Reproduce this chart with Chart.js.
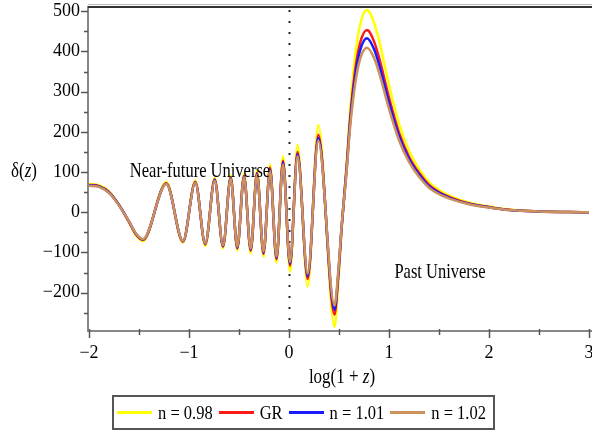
<!DOCTYPE html>
<html lang="en">
<head>
<meta charset="UTF-8">
<title>delta(z) versus log(1+z)</title>
<script src="https://cdn.jsdelivr.net/npm/chart.js"></script>
<style>
  body { margin: 0; background: #fff; }
  .wrap { position: relative; width: 592px; height: 432px; }
  .legend {
    position: absolute; left: 112px; top: 395px; width: 376px; height: 31px;
    border: 2px solid #555; display: flex; align-items: center;
    font-family: "Liberation Serif", serif; font-size: 16.5px; color: #000;
    padding-left: 3px; box-sizing: content-box;
  }
  .legend .line { width: 35px; height: 3px; margin-right: 6px; }
  .legend .txt { margin-right: 6px; white-space: nowrap; display: inline-block; transform: scaleY(1.2); }
</style>
</head>
<body>
<div class="wrap">
  <canvas id="deltaChart" width="592" height="432"></canvas>
  <div class="legend" id="legend"></div>
</div>
<script>
// x positions, log(1+z)
const logz = [-2, -1.9, -1.8, -1.7, -1.6, -1.53, -1.46, -1.227, -1.06, -0.937, -0.837, -0.743, -0.66, -0.583, -0.517,
  -0.45, -0.383, -0.32, -0.255, -0.19, -0.125, -0.06, 0.01, 0.085, 0.187, 0.293, 0.455,
  0.493, 0.527, 0.577, 0.61, 0.66, 0.71, 0.78, 0.85, 0.9, 1.0, 1.1, 1.2, 1.3, 1.4, 1.5,
  1.65, 1.8, 2.0, 2.2, 2.5, 2.8, 3.0];

// delta(z) for each model
const n098 = [70, 67, 52, 19, -25, -58, -72, 75, -76, 79, -84, 86, -90, 92, -95,
  97, -102, 105, -111, 119, -126, 139, -148, 167, -185, 217, -285,
  -178, -40, 125, 250, 385, 465, 503, 472, 428, 317, 220, 153, 108, 75, 55,
  36, 24, 14, 6.5, 2.2, 0.5, 0];
const gr = [68, 65, 50, 18, -24, -55, -69, 72, -73, 76, -80, 82, -86, 87, -90,
  91, -96, 98, -104, 111, -117, 128, -133, 150, -166, 193, -255,
  -160, -36, 115, 230, 350, 420, 453, 425, 385, 285, 198, 138, 98, 68, 50,
  33, 22, 13, 6, 2, 0.5, 0];
const n101 = [67, 64, 49, 18, -23, -54, -68, 71, -72, 74, -78, 80, -84, 85, -88,
  89, -93, 95, -101, 107, -113, 123, -128, 144, -159, 185, -243,
  -153, -34, 110, 220, 335, 402, 433, 406, 368, 272, 189, 132, 94, 65, 48,
  31.5, 21, 12.4, 5.7, 1.9, 0.5, 0];
const n102 = [66, 63, 48, 17, -23, -53, -67, 70, -71, 73, -77, 78, -82, 83, -86,
  87, -91, 93, -98, 104, -110, 119, -124, 139, -153, 178, -232,
  -146, -32, 104, 208, 316, 380, 409, 384, 348, 257, 179, 125, 88, 61, 45,
  30, 20, 11.7, 5.4, 1.8, 0.4, 0];

const seriesNames = ['n = 0.98', 'GR', 'n = 1.01', 'n = 1.02'];
const seriesData = [n098, gr, n101, n102];
const seriesColors = ['#ffff00', '#ff1a1a', '#1a1aff', 'rgb(205,145,92)'];

const xTickValues = [-2, -1, 0, 1, 2, 3];
const yTickValues = [-200, -100, 0, 100, 200, 300, 400, 500];

const serif = '"Liberation Serif", "Times New Roman", serif';

function fmt(v) {
  return v < 0 ? '\u2212' + Math.abs(v) : String(v);
}

// draws the frame, tick marks, dotted line, axis titles and the two notes
const decor = {
  id: 'decor',
  beforeDatasetsDraw(chart) {
    const { ctx, chartArea: a, scales: { x } } = chart;
    ctx.save();
    ctx.strokeStyle = '#222';
    ctx.lineWidth = 2;
    ctx.setLineDash([2, 9]);
    const x0 = Math.round(x.getPixelForValue(0)) + 0.5;
    ctx.beginPath();
    ctx.moveTo(x0, a.top + 4);
    ctx.lineTo(x0, a.bottom);
    ctx.stroke();
    ctx.restore();
  },
  afterDatasetsDraw(chart) {
    const { ctx, chartArea: a, scales: { x, y } } = chart;
    ctx.save();
    // frame
    ctx.lineWidth = 2;
    ctx.strokeStyle = '#888';
    ctx.beginPath();
    ctx.moveTo(a.left - 1, a.top);
    ctx.lineTo(a.left - 1, a.bottom + 1);
    ctx.lineTo(chart.width, a.bottom + 1);
    ctx.stroke();
    ctx.strokeStyle = '#333';
    ctx.beginPath();
    ctx.moveTo(a.left - 1, a.top + 1);
    ctx.lineTo(chart.width, a.top + 1);
    ctx.stroke();
    ctx.strokeStyle = '#bbb';
    ctx.lineWidth = 1;
    ctx.beginPath();
    ctx.moveTo(a.left - 1, a.top - 1.5);
    ctx.lineTo(chart.width, a.top - 1.5);
    ctx.stroke();

    // tick marks, major and half-step minor
    ctx.strokeStyle = '#555';
    ctx.lineWidth = 1.5;
    for (let v = -250; v <= 500; v += 50) {
      const py = Math.round(y.getPixelForValue(v)) + 0.5;
      const len = v % 100 === 0 ? 7 : 4;
      ctx.beginPath();
      ctx.moveTo(a.left - 1 - len, py);
      ctx.lineTo(a.left - 1, py);
      ctx.stroke();
    }
    for (let v = -2; v <= 3; v += 0.5) {
      const px = Math.round(x.getPixelForValue(v)) + 0.5;
      const len = Number.isInteger(v) ? 7 : 4;
      ctx.beginPath();
      ctx.moveTo(px, a.bottom - 1);
      ctx.lineTo(px, a.bottom + 1 + len);
      ctx.stroke();
    }

    // text, stretched a little in height like the original export
    const stretch = 1.22;
    ctx.fillStyle = '#000';
    ctx.textBaseline = 'middle';
    function note(text, cx, cy) {
      ctx.save();
      ctx.font = '16.5px ' + serif;
      ctx.textAlign = 'center';
      ctx.translate(cx, cy);
      ctx.scale(1, stretch);
      ctx.fillText(text, 0, 0);
      ctx.restore();
    }
    note('Near-future Universe', x.getPixelForValue(-0.89), y.getPixelForValue(100));
    note('Past Universe', x.getPixelForValue(1.51), y.getPixelForValue(-151));

    // axis titles with italic z
    function mixed(parts, left, cy) {
      ctx.save();
      ctx.translate(left, cy);
      ctx.scale(1, stretch);
      ctx.textAlign = 'left';
      let px = 0;
      parts.forEach(p => {
        ctx.font = (p[1] ? 'italic ' : '') + '17px ' + serif;
        ctx.fillText(p[0], px, 0);
        px += ctx.measureText(p[0]).width;
      });
      ctx.restore();
    }
    const xt = [['log(1 + ', false], ['z', true], [')', false]];
    let w = 0;
    xt.forEach(p => {
      ctx.font = (p[1] ? 'italic ' : '') + '17px ' + serif;
      w += ctx.measureText(p[0]).width;
    });
    mixed(xt, (a.left + a.right) / 2 + 3 - w / 2, 378);
    mixed([['\u03b4(', false], ['z', true], [')', false]], 11, 172);
    ctx.restore();
  }
};

const ctx = document.getElementById('deltaChart').getContext('2d');
new Chart(ctx, {
  type: 'line',
  data: {
    datasets: seriesNames.map((name, i) => ({
      label: name,
      data: logz.map((lx, k) => ({ x: lx, y: seriesData[i][k] })),
      borderColor: seriesColors[i],
      backgroundColor: seriesColors[i],
      borderWidth: 2.5,
      pointRadius: 0,
      fill: false,
      cubicInterpolationMode: 'monotone',
      order: 4 - i   // tan on top, yellow at the back
    }))
  },
  options: {
    responsive: false,
    animation: false,
    layout: { padding: { top: 6, right: 3, left: 0, bottom: 0 } },
    plugins: {
      legend: { display: false },
      tooltip: { enabled: false }
    },
    scales: {
      x: {
        type: 'linear',
        min: -2,
        max: 3,
        grid: { display: false, drawTicks: false },
        border: { display: false },
        afterBuildTicks: s => { s.ticks = xTickValues.map(v => ({ value: v })); },
        afterFit: s => { s.height = 102; s.paddingLeft = 0; s.paddingRight = 0; },
        ticks: {
          autoSkip: false,
          maxRotation: 0,
          padding: 12,
          color: '#000',
          font: { family: serif, size: 18 },
          callback: v => fmt(v)
        }
      },
      y: {
        min: -293,
        max: 513,
        grid: { display: false, drawTicks: false },
        border: { display: false },
        afterBuildTicks: s => { s.ticks = yTickValues.map(v => ({ value: v })); },
        afterFit: s => { s.width = 89; s.paddingTop = 0; s.paddingBottom = 0; },
        ticks: {
          autoSkip: false,
          padding: 9,
          color: '#000',
          font: { family: serif, size: 18 },
          callback: v => fmt(v)
        }
      }
    }
  },
  plugins: [decor]
});

// legend row
const legend = document.getElementById('legend');
seriesNames.forEach((name, i) => {
  const line = document.createElement('div');
  line.className = 'line';
  line.style.background = seriesColors[i];
  const txt = document.createElement('span');
  txt.className = 'txt';
  txt.textContent = name;
  legend.appendChild(line);
  legend.appendChild(txt);
});
</script>
</body>
</html>
